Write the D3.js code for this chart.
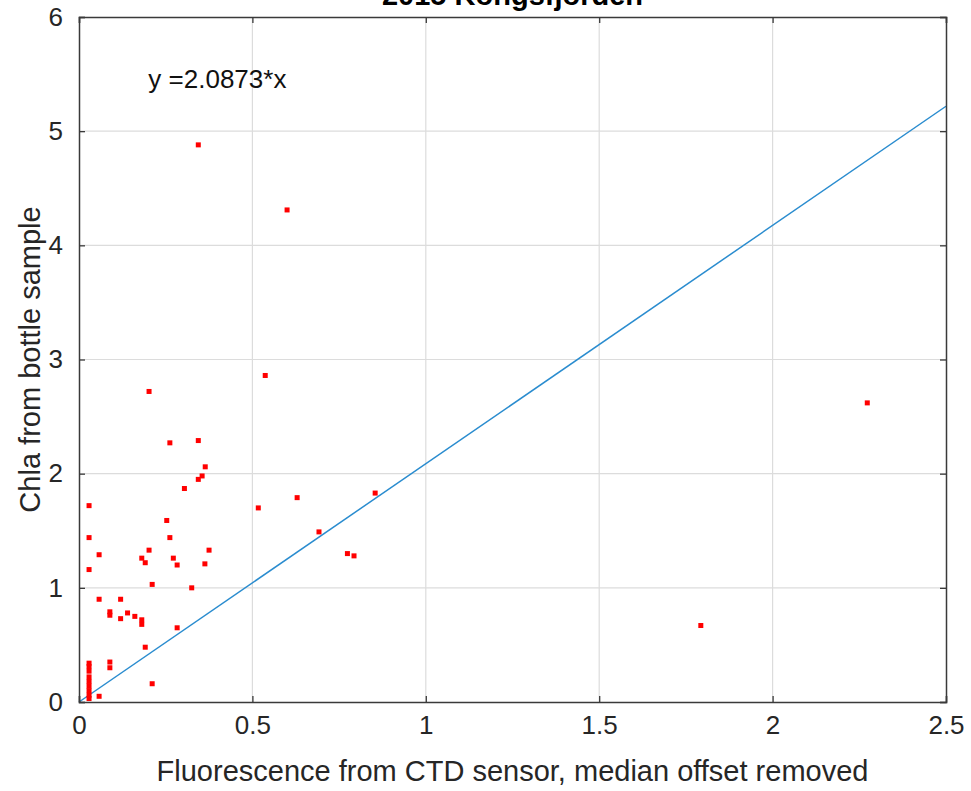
<!DOCTYPE html>
<html>
<head>
<meta charset="utf-8">
<script src="https://cdn.jsdelivr.net/npm/d3@7"></script>
<style>
  body { margin: 0; background: #fff; }
  text { font-family: "Liberation Sans", Arial, Helvetica, sans-serif; fill: #262626; }
</style>
</head>
<body>
<script>
'use strict'

// fluorescence (x) vs chla (y)
const fluor = [
  0.029, 0.029, 0.029, 0.058, 0.058, 0.058,
  0.029, 0.029, 0.029, 0.029, 0.029, 0.029, 0.029, 0.029, 0.029,
  0.089, 0.089, 0.089, 0.089,
  0.120, 0.120, 0.140, 0.161, 0.181, 0.181, 0.191, 0.211,
  0.181, 0.191, 0.202, 0.211, 0.202,
  0.253, 0.262, 0.262, 0.272, 0.283, 0.283,
  0.304, 0.325, 0.344, 0.344, 0.355, 0.364, 0.363, 0.375,
  0.344, 0.517, 0.537, 0.600, 0.629, 0.692, 0.774, 0.793, 0.854, 1.793, 2.273
]
const chla = [
  1.72, 1.44, 1.16, 1.29, 0.90, 0.05,
  0.34, 0.31, 0.27, 0.22, 0.18, 0.14, 0.10, 0.06, 0.03,
  0.79, 0.76, 0.35, 0.30,
  0.90, 0.73, 0.78, 0.75, 0.72, 0.68, 0.48, 0.16,
  1.26, 1.22, 1.33, 1.03, 2.72,
  1.59, 1.44, 2.27, 1.26, 1.20, 0.65,
  1.87, 1.00, 2.29, 1.95, 1.98, 2.06, 1.21, 1.33,
  4.88, 1.70, 2.86, 4.31, 1.79, 1.49, 1.30, 1.28, 1.83, 0.67, 2.62
]
const fitSlope = 2.0873
const fitX = [0, 2.5]
const xTicks = [0, 0.5, 1, 1.5, 2, 2.5]
const yTicks = [0, 1, 2, 3, 4, 5, 6]

const points = fluor.map((f, i) => ({ x: f, y: chla[i] }))

const margin = {top: 17, right: 25, bottom: 89, left: 79}
const W = 971
const H = 791
const width = W - margin.left - margin.right
const height = H - margin.top - margin.bottom

const x = d3.scaleLinear().domain([0, 2.5]).range([0, width])
const y = d3.scaleLinear().domain([0, 6]).range([height, 0])

const svg = d3.select('body').append('svg')
    .attr('width', W)
    .attr('height', H)
    .style('display', 'block')

// title is cropped at the top edge in the original too
svg.append('text')
    .attr('x', margin.left + width / 2)
    .attr('y', 5)
    .attr('text-anchor', 'middle')
    .style('font-size', '29px')
    .style('font-weight', 'bold')
    .style('fill', '#000')
    .text('2015 Kongsfjorden')

const g = svg.append('g')
    .attr('transform', 'translate(' + margin.left + ',' + margin.top + ')')

// grid
g.append('g')
    .selectAll('line')
    .data(xTicks.slice(1, -1))
  .enter().append('line')
    .attr('x1', d => x(d)).attr('x2', d => x(d))
    .attr('y1', 0).attr('y2', height)
    .attr('stroke', '#dcdcdc')
    .attr('stroke-width', 1.2)

g.append('g')
    .selectAll('line')
    .data(yTicks.slice(1, -1))
  .enter().append('line')
    .attr('y1', d => y(d)).attr('y2', d => y(d))
    .attr('x1', 0).attr('x2', width)
    .attr('stroke', '#dcdcdc')
    .attr('stroke-width', 1.2)

// fit line
const line = d3.line().x(d => x(d)).y(d => y(fitSlope * d))
g.append('path')
    .datum(fitX)
    .attr('d', line)
    .attr('fill', 'none')
    .attr('stroke', '#2a8ccf')
    .attr('stroke-width', 1.5)

g.selectAll('.dot')
    .data(points)
  .enter().append('rect')
    .attr('class', 'dot')
    .attr('x', d => x(d.x) - 2.5)
    .attr('y', d => y(d.y) - 2.5)
    .attr('width', 5)
    .attr('height', 5)
    .attr('fill', '#ff0000')

// axes (matlab-ish: ticks inside, box on)
const fmt = d => String(d)
const xAxis = d3.axisBottom(x).tickValues(xTicks).tickSize(-6).tickPadding(14).tickFormat(fmt)
const yAxis = d3.axisLeft(y).tickValues(yTicks).tickSize(-6).tickPadding(16).tickFormat(fmt)
const xTop = d3.axisTop(x).tickValues(xTicks).tickSize(-6).tickFormat('')
const yRight = d3.axisRight(y).tickValues(yTicks).tickSize(-6).tickFormat('')

const styleAxis = sel => {
  sel.select('.domain').attr('stroke', '#3a3a3a').attr('stroke-width', 1.5)
  sel.selectAll('.tick line').attr('stroke', '#3a3a3a').attr('stroke-width', 1.3)
  sel.selectAll('.tick text')
    .style('font-size', '26px')
    .style('font-family', '"Liberation Sans", Arial, sans-serif')
    .attr('fill', '#333')
}

g.append('g').attr('transform', 'translate(0,' + height + ')').call(xAxis).call(styleAxis)
g.append('g').call(yAxis).call(styleAxis)
g.append('g').call(xTop).call(styleAxis)
g.append('g').attr('transform', 'translate(' + width + ',0)').call(yRight).call(styleAxis)

g.append('text')
    .attr('x', x(0.2))
    .attr('y', y(5.46))
    .attr('dy', '0.35em')
    .style('font-size', '26px')
    .style('fill', '#111')
    .text('y =2.0873*x')

svg.append('text')
    .attr('x', margin.left + width / 2)
    .attr('y', 781)
    .attr('text-anchor', 'middle')
    .style('font-size', '29px')
    .attr('fill', '#333')
    .text('Fluorescence from CTD sensor, median offset removed')

svg.append('text')
    .attr('transform', 'translate(40,' + (margin.top + height / 2) + ') rotate(-90)')
    .attr('text-anchor', 'middle')
    .style('font-size', '29px')
    .attr('fill', '#333')
    .text('Chla from bottle sample')
</script>
</body>
</html>
